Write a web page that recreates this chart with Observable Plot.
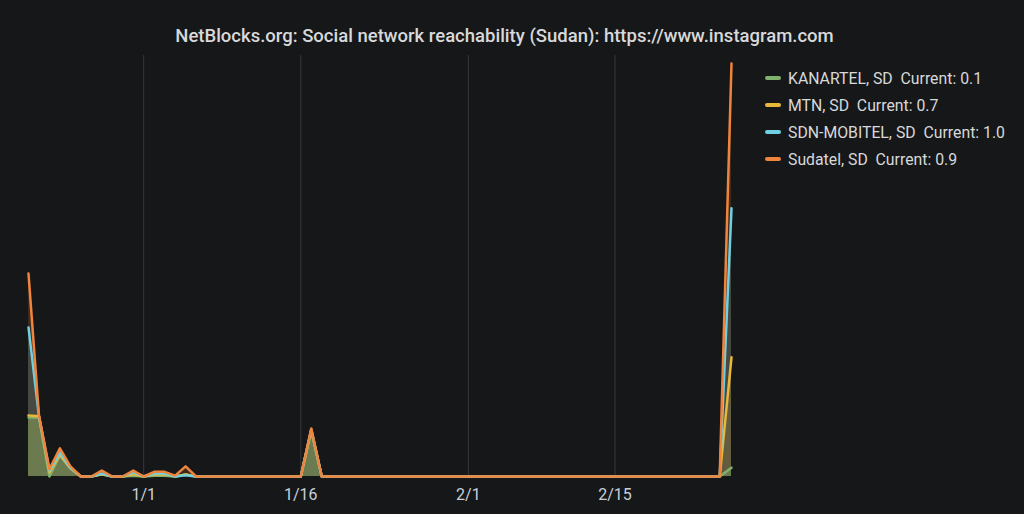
<!DOCTYPE html>
<html>
<head>
<meta charset="utf-8">
<script src="https://cdn.jsdelivr.net/npm/d3@7"></script>
<script src="https://cdn.jsdelivr.net/npm/@observablehq/plot@0.6"></script>
<style>
  html, body { margin: 0; padding: 0; background: #161719; }
  #wrap { position: relative; width: 1024px; height: 514px; overflow: hidden; background: #161719; font-family: Roboto, "Noto Sans", sans-serif; }
  #title { position: absolute; left: 0; top: 25px; width: 1009px; text-align: center; color: #d8d9da; font-size: 18.5px; font-weight: 500; }
  #chart { position: absolute; left: 0; top: 45px; }
  #legend { position: absolute; left: 765px; top: 64.5px; color: #d8d9da; font-size: 15.8px; }
  .item { height: 27px; display: flex; align-items: center; white-space: pre; }
  .sw { width: 16px; height: 4px; border-radius: 2px; margin-right: 7px; }
</style>
</head>
<body>
<div id="wrap">
  <div id="title"></div>
  <div id="chart"></div>
  <div id="legend"></div>
</div>
<script>
const titleText = "NetBlocks.org: Social network reachability (Sudan): https://www.instagram.com";
const seriesNames = ["KANARTEL, SD", "MTN, SD", "SDN-MOBITEL, SD", "Sudatel, SD"];
const seriesColors = ["#7EB26D", "#EAB839", "#6ED0E0", "#EF843C"];
const fillOpacities = [0.36, 0.18, 0.18, 0.18];
const currentValues = ["0.1", "0.7", "1.0", "0.9"];

// Daily samples from 2018-12-21, plus a final partial-day sample
const firstDay = "2018-12-21";
const lastSample = "2019-02-26T03:00Z";
const tickDates = ["2019-01-01", "2019-01-16", "2019-02-01", "2019-02-15"];

const kanartel = [0.140, 0.140, 0.000, 0.050, 0.019, 0, 0, 0.005, 0, 0, 0.002, 0, 0.002, 0.002, 0, 0.005,
  0, 0, 0, 0, 0, 0, 0, 0, 0, 0, 0, 0.110, 0, 0, 0, 0, 0, 0, 0, 0, 0, 0, 0, 0, 0, 0, 0, 0, 0, 0, 0,
  0, 0, 0, 0, 0, 0, 0, 0, 0, 0, 0, 0, 0, 0, 0, 0, 0, 0, 0, 0, 0.021];
const mtn = [0.145, 0.143, 0.010, 0.052, 0.020, 0, 0, 0.005, 0, 0, 0.005, 0, 0.005, 0.005, 0, 0.005,
  0, 0, 0, 0, 0, 0, 0, 0, 0, 0, 0, 0.110, 0, 0, 0, 0, 0, 0, 0, 0, 0, 0, 0, 0, 0, 0, 0, 0, 0, 0, 0,
  0, 0, 0, 0, 0, 0, 0, 0, 0, 0, 0, 0, 0, 0, 0, 0, 0, 0, 0, 0, 0.283];
const mobitel = [0.354, 0.143, 0.014, 0.057, 0.021, 0, 0, 0.007, 0, 0, 0.010, 0, 0.007, 0.007, 0, 0.003,
  0, 0, 0, 0, 0, 0, 0, 0, 0, 0, 0, 0.112, 0, 0, 0, 0, 0, 0, 0, 0, 0, 0, 0, 0, 0, 0, 0, 0, 0, 0, 0,
  0, 0, 0, 0, 0, 0, 0, 0, 0, 0, 0, 0, 0, 0, 0, 0, 0, 0, 0, 0, 0.637];
const sudatel = [0.482, 0.145, 0.017, 0.067, 0.024, 0, 0, 0.014, 0, 0, 0.014, 0, 0.011, 0.011, 0.002, 0.024,
  0, 0, 0, 0, 0, 0, 0, 0, 0, 0, 0, 0.114, 0, 0, 0, 0, 0, 0, 0, 0, 0, 0, 0, 0, 0, 0, 0, 0, 0, 0, 0,
  0, 0, 0, 0, 0, 0, 0, 0, 0, 0, 0, 0, 0, 0, 0, 0, 0, 0, 0, 0, 0.981];

const allSeries = [kanartel, mtn, mobitel, sudatel];
const nDaily = kanartel.length - 1;
const start = new Date(firstDay + "T00:00Z");
const dates = d3.range(nDaily).map(i => d3.utcDay.offset(start, i)).concat([new Date(lastSample)]);

const rows = [];
allSeries.forEach((vals, s) => vals.forEach((v, i) => rows.push({date: dates[i], value: v, series: seriesNames[s]})));

const ticks = tickDates.map(d => new Date(d + "T00:00Z"));

document.getElementById("title").textContent = titleText;

const marks = [
  Plot.ruleX(ticks, {stroke: "#37383a", strokeWidth: 1}),
];
// fills: drawn from last series to first so the green fill sits on top
[...seriesNames.keys()].reverse().forEach(s => {
  const data = rows.filter(r => r.series === seriesNames[s]);
  marks.push(Plot.areaY(data, {x: "date", y: "value", fill: seriesColors[s], fillOpacity: fillOpacities[s]}));
});
seriesNames.forEach((name, s) => {
  const data = rows.filter(r => r.series === name);
  marks.push(Plot.lineY(data, {x: "date", y: "value", stroke: seriesColors[s], strokeWidth: 2.5}));
});
marks.push(Plot.axisX({ticks, tickSize: 0, tickPadding: 12, tickFormat: d => `${d.getUTCMonth() + 1}/${d.getUTCDate()}`, fill: "#c7d0d9", fontSize: 16, label: null}));

const chart = Plot.plot({
  width: 1024,
  height: 469,
  marginTop: 10,
  marginBottom: 38,
  marginLeft: 28,
  marginRight: 293,
  style: {background: "transparent", color: "#c7d0d9", fontFamily: "Roboto, 'Noto Sans', sans-serif", fontSize: "16px"},
  x: {type: "utc", domain: [dates[0], dates[dates.length - 1]]},
  y: {domain: [0, 1], axis: null},
  marks
});
document.getElementById("chart").appendChild(chart);

const legend = document.getElementById("legend");
seriesNames.forEach((name, s) => {
  const item = document.createElement("div");
  item.className = "item";
  const sw = document.createElement("div");
  sw.className = "sw";
  sw.style.background = seriesColors[s];
  const t = document.createElement("span");
  t.textContent = `${name}  Current: ${currentValues[s]}`;
  item.appendChild(sw);
  item.appendChild(t);
  legend.appendChild(item);
});
</script>
</body>
</html>
